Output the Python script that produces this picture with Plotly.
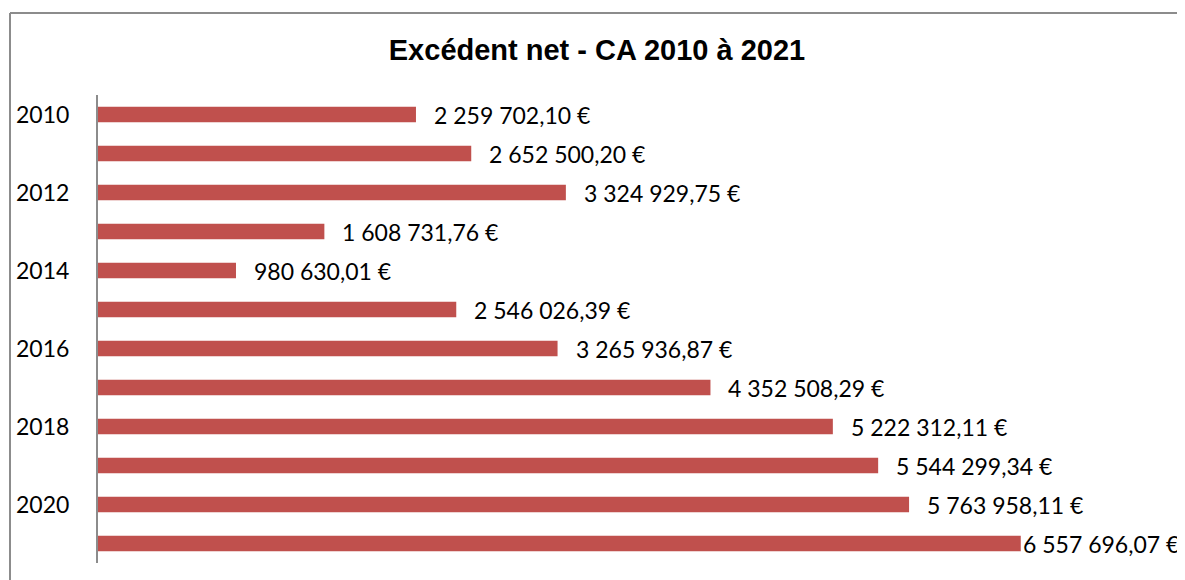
import plotly.graph_objects as go

years = ["2010", "2011", "2012", "2013", "2014", "2015", "2016", "2017", "2018", "2019", "2020", "2021"]
values = [2259702.10, 2652500.20, 3324929.75, 1608731.76, 980630.01, 2546026.39,
          3265936.87, 4352508.29, 5222312.11, 5544299.34, 5763958.11, 6557696.07]
tick_years = ["2010", "2012", "2014", "2016", "2018", "2020"]
title_text = "Excédent net - CA 2010 à 2021"


def fmt(v):
    s = f"{v:,.2f}"
    ent, dec = s.split(".")
    return ent.replace(",", " ") + "," + dec + " €"


W, H = 1185, 580
ml, mr, mt, mb = 90, 110, 87, 25
pw = W - ml - mr
ph = H - mt - mb

pos = list(range(len(years)))
tick_pos = [years.index(t) for t in tick_years]

fig = go.Figure()
fig.add_trace(go.Bar(
    x=values, y=pos, orientation="h",
    marker=dict(color="#C0504D", line=dict(width=0)),
    width=0.4, hoverinfo="skip",
))

xmax = 7_000_000
for p, v in zip(pos, values):
    shift = 16
    if v / xmax * pw + 16 + 162 > pw + mr - 8:
        shift = 0
    fig.add_annotation(x=v, y=p, text=fmt(v), showarrow=False, xanchor="left",
                       yanchor="middle", xshift=shift,
                       font=dict(family="Lato", size=23, color="#000000"))


def px(xpix):
    return (xpix - ml) / pw


def py(ypix):
    return 1 - (ypix - mt) / ph


fig.add_shape(type="line", xref="paper", yref="paper", x0=px(2), x1=px(2), y0=py(5), y1=py(600),
              line=dict(color="#8c8c8c", width=2))
fig.add_shape(type="line", xref="paper", yref="paper", x0=px(2), x1=px(1200), y0=py(5), y1=py(5),
              line=dict(color="#8c8c8c", width=2))

fig.update_layout(
    width=W, height=H,
    margin=dict(l=ml, r=mr, t=mt, b=mb, autoexpand=False),
    paper_bgcolor="white", plot_bgcolor="white",
    showlegend=False,
    title=dict(text="<b>" + title_text + "</b>", x=(597 - 8) / W, xref="container", xanchor="center",
               y=1 - 42 / H, yanchor="middle",
               font=dict(family="Liberation Sans", size=29, color="#000000")),
    xaxis=dict(range=[0, xmax], visible=False, fixedrange=True),
    yaxis=dict(range=[len(years) - 0.5, -0.5], tickmode="array", tickvals=tick_pos, ticktext=tick_years,
               showline=True, linecolor="#8c8c8c", linewidth=2, showgrid=False, zeroline=False,
               ticks="", ticklabelstandoff=22, fixedrange=True,
               tickfont=dict(family="Lato", size=23, color="#000000")),
)

fig.write_html("out.html")
